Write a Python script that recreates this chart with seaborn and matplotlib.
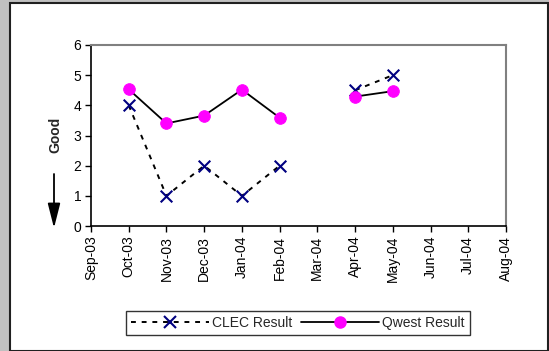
import matplotlib

matplotlib.use("Agg")
import matplotlib.pyplot as plt
import numpy as np
import pandas as pd
import seaborn as sns
from matplotlib.lines import Line2D
from matplotlib.patches import FancyArrowPatch, Rectangle

months = ["Sep-03", "Oct-03", "Nov-03", "Dec-03", "Jan-04", "Feb-04",
          "Mar-04", "Apr-04", "May-04", "Jun-04", "Jul-04", "Aug-04"]
clec = [np.nan, 4.0, 1.0, 2.0, 1.0, 2.0, np.nan, 4.5, 5.0, np.nan, np.nan, np.nan]
qwest = [np.nan, 4.53, 3.40, 3.66, 4.52, 3.59, np.nan, 4.29, 4.47, np.nan, np.nan, np.nan]

sns.set_style("ticks")
plt.rcParams["font.family"] = ["Liberation Sans", "DejaVu Sans"]
plt.rcParams["font.size"] = 10


def _segments(values):
    # split into runs so gaps (missing months) break the line
    rows = []
    seg = 0
    for i, v in enumerate(values):
        if np.isnan(v):
            seg += 1
            continue
        rows.append({"x": i, "y": v, "seg": seg})
    return pd.DataFrame(rows)


fig = plt.figure(figsize=(5.49, 3.51), dpi=100, facecolor="#c0c0c0")
fig.patches.append(
    Rectangle((10 / 549, 0), 538 / 549, 348 / 351, transform=fig.transFigure,
              facecolor="white", edgecolor="#202020", linewidth=1.5, zorder=-5)
)
ax = fig.add_axes([91 / 549, 1 - 226 / 351, 415 / 549, 181 / 351])
ax.set_facecolor("white")

df_clec = _segments(clec)
df_qwest = _segments(qwest)

sns.lineplot(data=df_clec, x="x", y="y", units="seg", estimator=None, ax=ax,
             color="black", linewidth=1.4, linestyle=(0, (2.5, 3)), legend=False)
sns.scatterplot(data=df_clec, x="x", y="y", ax=ax, marker="x", color="#000080",
                s=70, linewidth=1.5, zorder=3, legend=False)
sns.lineplot(data=df_qwest, x="x", y="y", units="seg", estimator=None, ax=ax,
             color="black", linewidth=1.3, legend=False)
sns.scatterplot(data=df_qwest, x="x", y="y", ax=ax, marker="o", color="#ff00ff",
                s=70, edgecolor="#ff00ff", zorder=4, legend=False)

ax.set_xlim(0, len(months) - 1)
ax.set_ylim(0, 6)
ax.set_xticks(range(len(months)))
ax.set_xticklabels(months, rotation=90)
ax.set_yticks(range(7))
ax.set_xlabel("")
ax.set_ylabel("")
ax.tick_params(direction="out", length=4, width=1, colors="black", pad=3)
for side in ["left", "bottom"]:
    ax.spines[side].set_color("black")
    ax.spines[side].set_linewidth(1.2)
for side in ["top", "right"]:
    ax.spines[side].set_visible(True)
    ax.spines[side].set_color("#808080")
    ax.spines[side].set_linewidth(1.5)

fig.text(55 / 549, 1 - 135 / 351, "Good", rotation=90, ha="center", va="center",
         fontweight="bold", fontsize=10)
fig.patches.append(
    FancyArrowPatch(
        (54 / 549, 1 - 174 / 351), (54 / 549, 1 - 228 / 351),
        transform=fig.transFigure, arrowstyle="-|>,head_length=1.5,head_width=0.38",
        color="black", linewidth=1.3, mutation_scale=10, shrinkA=0, shrinkB=0)
)

handles = [
    Line2D([], [], color="black", linestyle=(0, (2.5, 3)), linewidth=1.4,
           marker="x", markersize=8, markeredgewidth=1.5,
           markeredgecolor="#000080"),
    Line2D([], [], color="black", linewidth=1.3, marker="o", markersize=8,
           markerfacecolor="#ff00ff", markeredgecolor="#ff00ff"),
]
leg = fig.legend(handles, ["CLEC Result", "Qwest Result"], ncol=2,
                 loc="center", bbox_to_anchor=(298 / 549, 1 - 323 / 351),
                 frameon=True, fancybox=False, handlelength=5.6,
                 columnspacing=0.6, handletextpad=0.25, borderpad=0.35,
                 borderaxespad=0)
leg.get_frame().set_edgecolor("black")
leg.get_frame().set_linewidth(1)

fig.savefig("out.png", dpi=100, facecolor=fig.get_facecolor())
